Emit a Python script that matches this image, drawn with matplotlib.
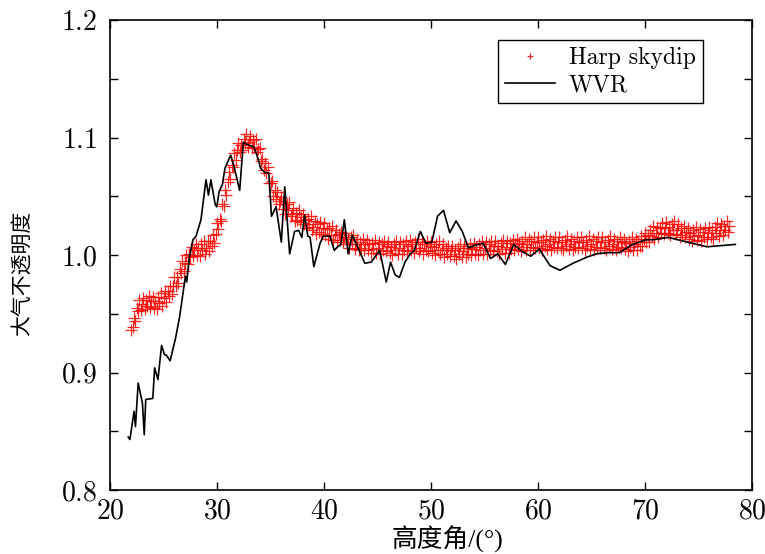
import numpy as np
import matplotlib
matplotlib.use('Agg')
import matplotlib.pyplot as plt
from matplotlib.ticker import MultipleLocator

plt.rcParams['font.family'] = ['cmr10', 'DejaVu Serif']
plt.rcParams['axes.formatter.use_mathtext'] = True
plt.rcParams['mathtext.fontset'] = 'cm'

CJK = ['Noto Sans CJK SC', 'DejaVu Sans']

# Harp skydip, sampled every 0.125 deg from 22.0 (8 values per degree)
harp_start, harp_step = 22.0, 0.125
harp_y = [
    0.936, 0.939, 0.946, 0.944, 0.955, 0.952, 0.962, 0.953,  # 22
    0.958, 0.963, 0.954, 0.962, 0.957, 0.965, 0.956, 0.961,  # 23
    0.964, 0.955, 0.961, 0.954, 0.964, 0.959, 0.968, 0.957,  # 24
    0.963, 0.969, 0.960, 0.969, 0.965, 0.974, 0.967, 0.974,  # 25
    0.981, 0.974, 0.981, 0.976, 0.988, 0.985, 0.995, 0.986,  # 26
    0.993, 1.000, 0.992, 1.001, 0.998, 1.007, 0.999, 1.004,  # 27
    1.009, 1.000, 1.006, 0.999, 1.009, 1.004, 1.012, 1.001,  # 28
    1.006, 1.012, 1.003, 1.012, 1.008, 1.017, 1.010, 1.018,  # 29
    1.027, 1.022, 1.031, 1.029, 1.043, 1.042, 1.055, 1.051,  # 30
    1.062, 1.071, 1.065, 1.077, 1.075, 1.087, 1.081, 1.089,  # 31
    1.095, 1.088, 1.094, 1.089, 1.099, 1.095, 1.103, 1.092,  # 32
    1.096, 1.101, 1.091, 1.098, 1.092, 1.099, 1.088, 1.090,  # 33
    1.091, 1.080, 1.082, 1.072, 1.078, 1.070, 1.075, 1.061,  # 34
    1.061, 1.063, 1.050, 1.055, 1.048, 1.054, 1.043, 1.046,  # 35
    1.049, 1.039, 1.043, 1.035, 1.043, 1.038, 1.045, 1.033,  # 36
    1.035, 1.040, 1.029, 1.036, 1.030, 1.038, 1.028, 1.032,  # 37
    1.035, 1.026, 1.030, 1.023, 1.031, 1.026, 1.033, 1.021,  # 38
    1.024, 1.029, 1.018, 1.026, 1.020, 1.028, 1.018, 1.023,  # 39
    1.027, 1.017, 1.022, 1.014, 1.023, 1.017, 1.025, 1.013,  # 40
    1.017, 1.021, 1.011, 1.018, 1.013, 1.020, 1.011, 1.015,  # 41
    1.019, 1.009, 1.014, 1.006, 1.015, 1.009, 1.017, 1.005,  # 42
    1.009, 1.014, 1.004, 1.011, 1.006, 1.014, 1.004, 1.009,  # 43
    1.013, 1.004, 1.009, 1.002, 1.010, 1.005, 1.013, 1.002,  # 44
    1.006, 1.011, 1.001, 1.009, 1.004, 1.012, 1.003, 1.008,  # 45
    1.011, 1.002, 1.007, 1.000, 1.009, 1.004, 1.012, 1.001,  # 46
    1.006, 1.011, 1.001, 1.009, 1.004, 1.012, 1.003, 1.008,  # 47
    1.013, 1.004, 1.009, 1.002, 1.011, 1.006, 1.014, 1.003,  # 48
    1.006, 1.011, 1.001, 1.009, 1.004, 1.012, 1.003, 1.008,  # 49
    1.011, 1.002, 1.007, 1.000, 1.009, 1.004, 1.012, 1.001,  # 50
    1.004, 1.009, 0.998, 1.006, 1.001, 1.008, 0.999, 1.004,  # 51
    1.008, 0.999, 1.004, 0.997, 1.006, 1.001, 1.009, 0.998,  # 52
    1.003, 1.008, 0.998, 1.006, 1.001, 1.009, 1.000, 1.005,  # 53
    1.010, 1.001, 1.007, 1.000, 1.009, 1.004, 1.012, 1.001,  # 54
    1.006, 1.011, 1.001, 1.009, 1.004, 1.012, 1.003, 1.008,  # 55
    1.012, 1.003, 1.008, 1.001, 1.010, 1.005, 1.013, 1.002,  # 56
    1.007, 1.012, 1.002, 1.010, 1.005, 1.013, 1.004, 1.009,  # 57
    1.014, 1.005, 1.010, 1.003, 1.012, 1.007, 1.015, 1.004,  # 58
    1.009, 1.014, 1.004, 1.012, 1.007, 1.015, 1.006, 1.011,  # 59
    1.015, 1.006, 1.011, 1.004, 1.013, 1.008, 1.016, 1.005,  # 60
    1.009, 1.014, 1.004, 1.012, 1.007, 1.015, 1.006, 1.011,  # 61
    1.015, 1.006, 1.011, 1.004, 1.013, 1.008, 1.016, 1.005,  # 62
    1.009, 1.014, 1.004, 1.012, 1.007, 1.015, 1.006, 1.011,  # 63
    1.015, 1.006, 1.011, 1.004, 1.013, 1.008, 1.016, 1.005,  # 64
    1.009, 1.014, 1.004, 1.012, 1.007, 1.015, 1.006, 1.011,  # 65
    1.015, 1.006, 1.011, 1.004, 1.013, 1.008, 1.016, 1.005,  # 66
    1.009, 1.014, 1.004, 1.012, 1.007, 1.015, 1.006, 1.011,  # 67
    1.014, 1.005, 1.010, 1.003, 1.012, 1.007, 1.015, 1.004,  # 68
    1.009, 1.014, 1.004, 1.012, 1.008, 1.016, 1.008, 1.014,  # 69
    1.019, 1.011, 1.017, 1.011, 1.021, 1.016, 1.025, 1.014,  # 70
    1.019, 1.024, 1.015, 1.023, 1.019, 1.027, 1.018, 1.023,  # 71
    1.028, 1.019, 1.024, 1.017, 1.026, 1.021, 1.029, 1.018,  # 72
    1.021, 1.026, 1.015, 1.023, 1.017, 1.025, 1.015, 1.020,  # 73
    1.023, 1.014, 1.019, 1.012, 1.021, 1.016, 1.024, 1.013,  # 74
    1.017, 1.022, 1.012, 1.020, 1.015, 1.023, 1.014, 1.019,  # 75
    1.024, 1.015, 1.021, 1.014, 1.024, 1.019, 1.027, 1.016,  # 76
    1.021, 1.026, 1.017, 1.025, 1.021, 1.029, 1.020, 1.025,  # 77
]
harp_x = harp_start + harp_step * np.arange(len(harp_y))

# WVR
wvr_x = [21.70, 21.86, 22.25, 22.38, 22.63, 23.03, 23.20, 23.34, 24.00, 24.17,
         24.48, 24.82, 25.10, 25.25, 25.62, 26.12, 26.50, 26.86, 27.05, 27.17,
         27.42, 27.75, 28.04, 28.50, 28.97, 29.20, 29.43, 29.83, 29.98, 30.20,
         30.50, 30.75, 31.28, 31.60, 32.12, 32.46, 32.83, 33.45, 33.76, 34.07,
         34.47, 34.84, 35.09, 35.52, 36.01, 36.33, 36.79, 37.25, 37.63, 37.93,
         38.18, 38.49, 38.70, 39.05, 39.63, 39.94, 40.55, 40.96, 41.27, 41.58,
         41.90, 42.26, 42.63, 43.19, 43.81, 44.42, 45.20, 45.82, 46.22, 46.65,
         47.05, 47.57, 48.07, 48.45, 49.00, 49.53, 50.08, 50.61, 51.17, 51.75,
         52.34, 52.93, 53.49, 54.00, 54.88, 55.56, 56.24, 56.95, 57.73, 58.50,
         59.33, 60.13, 61.12, 62.05, 63.28, 64.52, 65.45, 66.53, 67.61, 68.85,
         70.09, 70.71, 72.19, 73.95, 75.81, 78.44]
wvr_y = [0.845, 0.843, 0.867, 0.854, 0.891, 0.874, 0.847, 0.877, 0.878, 0.904,
         0.894, 0.923, 0.915, 0.915, 0.910, 0.929, 0.947, 0.970, 0.982, 0.977,
         0.998, 1.013, 1.016, 1.030, 1.064, 1.051, 1.064, 1.043, 1.041, 1.054,
         1.060, 1.074, 1.085, 1.075, 1.055, 1.096, 1.094, 1.092, 1.084, 1.074,
         1.070, 1.070, 1.033, 1.041, 1.011, 1.058, 1.001, 1.020, 1.021, 1.015,
         1.034, 1.016, 1.015, 0.990, 1.010, 1.016, 1.016, 1.004, 1.007, 1.009,
         1.030, 1.001, 1.017, 1.006, 0.993, 0.994, 1.004, 0.977, 0.994, 0.983,
         0.981, 0.994, 1.001, 1.004, 1.020, 1.010, 1.011, 1.033, 1.038, 1.019,
         1.029, 1.020, 1.006, 1.008, 1.010, 0.997, 1.001, 0.992, 1.009, 1.003,
         0.999, 1.005, 0.991, 0.987, 0.993, 0.998, 1.001, 1.002, 1.002, 1.009,
         1.013, 1.013, 1.015, 1.011, 1.007, 1.009]

fig = plt.figure(figsize=(7.65, 5.54), dpi=100)
ax = fig.add_axes([0.1438, 0.1155, 0.8392, 0.8484])

ax.plot(harp_x, harp_y, '+', color='red', ms=8, mew=0.9, alpha=0.85,
        label='Harp skydip')
ax.plot(wvr_x, wvr_y, '-', color='black', lw=1.2, label='WVR')

ax.set_xlim(20, 80)
ax.set_ylim(0.8, 1.2)
ax.xaxis.set_major_locator(MultipleLocator(10))
ax.yaxis.set_major_locator(MultipleLocator(0.1))
ax.yaxis.set_minor_locator(MultipleLocator(0.05))
ax.tick_params(which='both', direction='in', top=True, right=True,
               length=6, width=1.0, labelsize=20)
ax.tick_params(axis='x', pad=6)
ax.tick_params(axis='y', pad=9)
for sp in ax.spines.values():
    sp.set_linewidth(1.2)

ax.set_xlabel('高度角/(°)', family=['Liberation Serif', 'Noto Sans CJK SC'],
              fontsize=18.5)
ax.xaxis.set_label_coords(0.526, -0.076)
ax.set_ylabel('大气不透明度', family=CJK, fontsize=15)
ax.yaxis.set_label_coords(-0.12, 0.46)

leg = ax.legend(loc='upper right', bbox_to_anchor=(0.9237, 0.9574),
                numpoints=1, fontsize=17, fancybox=False,
                edgecolor='black', framealpha=1, handlelength=2.1,
                borderaxespad=0, labelspacing=0.2, borderpad=0.3,
                handletextpad=0.6)
leg.get_frame().set_linewidth(1.0)
leg.legend_handles[0].set_markersize(5)

fig.savefig('out.png', dpi=100)
